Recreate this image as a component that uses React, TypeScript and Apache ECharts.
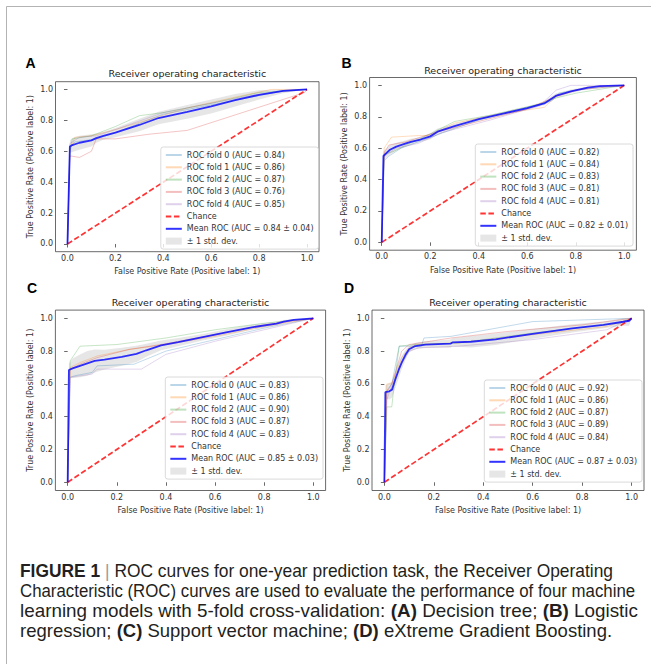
import { useEffect, useRef } from "react";
import * as echarts from "echarts";

// ---------- shared ----------
const TICK_VALUES = [0, 0.2, 0.4, 0.6, 0.8, 1.0];
const CHANCE_FPR = [0, 1];
const CHANCE_TPR = [0, 1];
const FOLD_COLORS = [
  "rgba(31,119,180,0.3)",
  "rgba(255,127,14,0.3)",
  "rgba(44,160,44,0.3)",
  "rgba(214,39,40,0.3)",
  "rgba(148,103,189,0.3)",
];
const PANEL_LETTERS = ["A", "B", "C", "D"];

// ---------- Panel A: Decision tree ----------
const A_FOLD_FPR = [
  [0, 0.01, 0.03, 0.12, 0.2, 0.3, 0.4, 0.5, 0.6, 0.7, 0.8, 0.9, 1],
  [0, 0.01, 0.03, 0.1, 0.2, 0.35, 0.5, 0.7, 0.85, 1],
  [0, 0.01, 0.02, 0.1, 0.2, 0.3, 0.4, 0.6, 0.8, 1],
  [0, 0.01, 0.05, 0.1, 0.12, 0.2, 0.34, 0.5, 0.99, 1],
  [0, 0.01, 0.05, 0.12, 0.2, 0.4, 0.6, 0.8, 1],
];
const A_FOLD_TPR = [
  [0, 0.62, 0.66, 0.68, 0.72, 0.78, 0.84, 0.87, 0.9, 0.93, 0.96, 0.99, 1],
  [0, 0.6, 0.69, 0.7, 0.74, 0.81, 0.88, 0.95, 1, 1],
  [0, 0.6, 0.68, 0.7, 0.76, 0.83, 0.85, 0.91, 0.98, 1],
  [0, 0.57, 0.56, 0.6, 0.68, 0.68, 0.71, 0.735, 0.98, 1],
  [0, 0.65, 0.69, 0.7, 0.74, 0.85, 0.91, 0.97, 1],
];
const A_FOLD_AUC = [0.84, 0.86, 0.87, 0.76, 0.85];
const A_MEAN_FPR = [0, 0.01, 0.02, 0.05, 0.1, 0.12, 0.15, 0.2, 0.3, 0.38, 0.5, 0.6, 0.7, 0.8, 0.9, 1.0];
const A_MEAN_TPR = [0, 0.63, 0.64, 0.655, 0.67, 0.685, 0.7, 0.72, 0.77, 0.815, 0.855, 0.89, 0.93, 0.965, 0.99, 1.0];
const A_STD_TPR = [0, 0.04, 0.045, 0.045, 0.04, 0.03, 0.025, 0.03, 0.04, 0.04, 0.045, 0.045, 0.04, 0.03, 0.015, 0];
const A_MEAN_AUC = "0.84 ± 0.04";

// ---------- Panel B: Logistic regression ----------
const B_FOLD_FPR = [
  [0, 0.01, 0.03, 0.08, 0.15, 0.22, 0.4, 0.6, 0.7, 0.73, 0.8, 1],
  [0, 0.01, 0.04, 0.15, 0.2, 0.3, 0.5, 0.67, 0.72, 0.85, 1],
  [0, 0.01, 0.05, 0.1, 0.2, 0.3, 0.45, 0.65, 0.72, 0.8, 1],
  [0, 0.01, 0.03, 0.1, 0.22, 0.4, 0.6, 0.72, 0.8, 1],
  [0, 0.01, 0.06, 0.15, 0.25, 0.45, 0.65, 0.72, 0.78, 1],
];
const B_FOLD_TPR = [
  [0, 0.52, 0.55, 0.6, 0.64, 0.68, 0.78, 0.86, 0.9, 0.95, 0.97, 1],
  [0, 0.6, 0.67, 0.68, 0.68, 0.76, 0.82, 0.86, 0.93, 0.99, 1],
  [0, 0.56, 0.58, 0.62, 0.69, 0.77, 0.81, 0.88, 0.92, 0.95, 1],
  [0, 0.57, 0.62, 0.64, 0.7, 0.77, 0.85, 0.93, 0.97, 1],
  [0, 0.55, 0.6, 0.63, 0.7, 0.78, 0.87, 0.97, 1, 1],
];
const B_FOLD_AUC = [0.82, 0.84, 0.83, 0.81, 0.81];
const B_MEAN_FPR = [0, 0.007, 0.02, 0.034, 0.06, 0.1, 0.12, 0.16, 0.2, 0.23, 0.3, 0.4, 0.5, 0.6, 0.67, 0.7, 0.72, 0.78, 0.85, 0.9, 1.0];
const B_MEAN_TPR = [0, 0.55, 0.57, 0.59, 0.61, 0.63, 0.64, 0.655, 0.675, 0.705, 0.74, 0.785, 0.82, 0.855, 0.885, 0.915, 0.935, 0.962, 0.985, 0.995, 1.0];
const B_STD_TPR = [0, 0.03, 0.03, 0.03, 0.025, 0.02, 0.02, 0.015, 0.02, 0.02, 0.015, 0.012, 0.012, 0.012, 0.012, 0.015, 0.015, 0.012, 0.008, 0.005, 0];
const B_MEAN_AUC = "0.82 ± 0.01";

// ---------- Panel C: Support vector machine ----------
const C_FOLD_FPR = [
  [0, 0.01, 0.03, 0.1, 0.12, 0.27, 0.4, 0.6, 0.8, 1],
  [0, 0.01, 0.05, 0.12, 0.25, 0.4, 0.6, 0.8, 1],
  [0, 0.01, 0.05, 0.2, 0.4, 0.6, 0.8, 1],
  [0, 0.01, 0.05, 0.12, 0.25, 0.4, 0.6, 0.8, 1],
  [0, 0.01, 0.1, 0.12, 0.3, 0.4, 0.6, 0.8, 1],
];
const C_FOLD_TPR = [
  [0, 0.64, 0.65, 0.67, 0.71, 0.72, 0.8, 0.87, 0.94, 1],
  [0, 0.7, 0.73, 0.77, 0.81, 0.84, 0.89, 0.95, 1],
  [0, 0.74, 0.83, 0.84, 0.88, 0.93, 0.97, 1],
  [0, 0.69, 0.72, 0.76, 0.81, 0.845, 0.9, 0.96, 1],
  [0, 0.64, 0.66, 0.69, 0.69, 0.78, 0.86, 0.93, 1],
];
const C_FOLD_AUC = [0.83, 0.86, 0.9, 0.87, 0.83];
const C_MEAN_FPR = [0, 0.005, 0.02, 0.05, 0.08, 0.11, 0.15, 0.22, 0.28, 0.32, 0.38, 0.45, 0.55, 0.65, 0.75, 0.85, 0.88, 0.92, 1.0];
const C_MEAN_TPR = [0, 0.685, 0.695, 0.71, 0.725, 0.74, 0.748, 0.765, 0.783, 0.805, 0.835, 0.855, 0.885, 0.915, 0.945, 0.968, 0.98, 0.99, 1.0];
const C_STD_TPR = [0, 0.04, 0.06, 0.07, 0.075, 0.07, 0.06, 0.055, 0.05, 0.04, 0.03, 0.025, 0.02, 0.02, 0.015, 0.012, 0.01, 0.005, 0];
const C_MEAN_AUC = "0.85 ± 0.03";

// ---------- Panel D: XGBoost ----------
const D_FOLD_FPR = [
  [0, 0.01, 0.03, 0.06, 0.15, 0.16, 0.27, 0.6, 1],
  [0, 0.01, 0.03, 0.07, 0.1, 0.13, 0.3, 0.6, 0.9, 1],
  [0, 0.01, 0.03, 0.04, 0.06, 0.12, 0.3, 0.6, 0.95, 1],
  [0, 0.01, 0.03, 0.07, 0.1, 0.27, 0.5, 0.8, 1],
  [0, 0.01, 0.02, 0.06, 0.1, 0.14, 0.3, 0.6, 0.9, 1],
];
const D_FOLD_TPR = [
  [0, 0.56, 0.6, 0.83, 0.83, 0.88, 0.89, 0.98, 1],
  [0, 0.6, 0.6, 0.76, 0.82, 0.84, 0.85, 0.9, 0.95, 1],
  [0, 0.46, 0.46, 0.6, 0.83, 0.84, 0.85, 0.91, 0.97, 1],
  [0, 0.55, 0.6, 0.8, 0.84, 0.88, 0.92, 0.96, 1],
  [0, 0.5, 0.55, 0.7, 0.8, 0.82, 0.83, 0.87, 0.93, 1],
];
const D_FOLD_AUC = [0.92, 0.86, 0.87, 0.89, 0.84];
const D_MEAN_FPR = [0, 0.004, 0.02, 0.031, 0.045, 0.058, 0.07, 0.085, 0.1, 0.125, 0.166, 0.267, 0.275, 0.35, 0.45, 0.6, 0.76, 0.886, 0.966, 0.99, 1.0];
const D_MEAN_TPR = [0, 0.55, 0.555, 0.565, 0.63, 0.685, 0.73, 0.776, 0.811, 0.831, 0.84, 0.845, 0.853, 0.857, 0.872, 0.905, 0.939, 0.96, 0.979, 0.985, 1.0];
const D_STD_TPR = [0, 0.04, 0.05, 0.05, 0.05, 0.05, 0.04, 0.03, 0.02, 0.02, 0.02, 0.025, 0.025, 0.035, 0.035, 0.03, 0.025, 0.02, 0.025, 0.03, 0];
const D_MEAN_AUC = "0.87 ± 0.03";

// ---------- caption ----------
const CAPTION_LINES = [
  "{b|FIGURE 1} {bar||} ROC curves for one-year prediction task, the Receiver Operating",
  "Characteristic (ROC) curves are used to evaluate the performance of four machine",
  "learning models with 5-fold cross-validation: {b|(A)} Decision tree; {b|(B)} Logistic",
  "regression; {b|(C)} Support vector machine; {b|(D)} eXtreme Gradient Boosting.",
];

const PANELS = [
  { foldFpr: A_FOLD_FPR, foldTpr: A_FOLD_TPR, foldAuc: A_FOLD_AUC, meanFpr: A_MEAN_FPR, meanTpr: A_MEAN_TPR, std: A_STD_TPR, meanAuc: A_MEAN_AUC },
  { foldFpr: B_FOLD_FPR, foldTpr: B_FOLD_TPR, foldAuc: B_FOLD_AUC, meanFpr: B_MEAN_FPR, meanTpr: B_MEAN_TPR, std: B_STD_TPR, meanAuc: B_MEAN_AUC },
  { foldFpr: C_FOLD_FPR, foldTpr: C_FOLD_TPR, foldAuc: C_FOLD_AUC, meanFpr: C_MEAN_FPR, meanTpr: C_MEAN_TPR, std: C_STD_TPR, meanAuc: C_MEAN_AUC },
  { foldFpr: D_FOLD_FPR, foldTpr: D_FOLD_TPR, foldAuc: D_FOLD_AUC, meanFpr: D_MEAN_FPR, meanTpr: D_MEAN_TPR, std: D_STD_TPR, meanAuc: D_MEAN_AUC },
];

// layout (pixels)
const LAYOUT = [
  { lx: 30.5, ly: 63.3, grid: { left: 55.5, top: 81.7, width: 263.5, height: 170 }, titleX: 187.3, titleY: 68.5, legendRight: 332.5, legendTop: 147 },
  { lx: 346.5, ly: 62.5, grid: { left: 369.6, top: 77.5, width: 266.8, height: 172.7 }, titleX: 503, titleY: 65, legendRight: 18, legendTop: 144 },
  { lx: 32, ly: 287.5, grid: { left: 55.4, top: 310.1, width: 270.2, height: 180.4 }, titleX: 190.5, titleY: 297, legendRight: 328, legendTop: 377 },
  { lx: 349, ly: 288.3, grid: { left: 372, top: 310.1, width: 272, height: 180.4 }, titleX: 508, titleY: 297, legendRight: 9, legendTop: 380 },
];
const CAPTION_X = 20;
const CAPTION_Y0 = 571;
const CAPTION_LINE_GAP = 20;
const CAPTION_LINE_END = [613, 636, 638, 612];
const CAPTION_SIZE = 17.5;
const CAPTION_FONT = "Liberation Sans";

const MPL_FONT = "DejaVu Sans";
const TEXT_COLOR = "#333";
const SPINE = "#444";
const BAND_COLOR = "rgba(128,128,128,0.2)";
const NO_SYMBOL = "rgba(0,0,0,0)";

function measureRich(line: string): number {
  const ctx = document.createElement("canvas").getContext("2d");
  if (!ctx) return 1;
  const re = /\{(\w+)\|([^}]*)\}/g;
  let last = 0;
  let w = 0;
  let m: RegExpExecArray | null;
  const seg = (text: string, bold: boolean) => {
    ctx.font = `${bold ? "bold " : ""}${CAPTION_SIZE}px "${CAPTION_FONT}"`;
    w += ctx.measureText(text).width;
  };
  while ((m = re.exec(line))) {
    if (m.index > last) seg(line.slice(last, m.index), false);
    seg(m[2], m[1] === "b");
    last = m.index + m[0].length;
  }
  if (last < line.length) seg(line.slice(last), false);
  return w;
}

function buildOption() {
  const grid: any[] = [];
  const xAxis: any[] = [];
  const yAxis: any[] = [];
  const series: any[] = [];
  const legend: any[] = [];
  const title: any[] = [];
  const graphic: any[] = [];

  PANELS.forEach((p, i) => {
    const L = LAYOUT[i];
    grid.push({
      ...L.grid,
      show: true,
      borderColor: SPINE,
      borderWidth: 0.8,
      backgroundColor: "transparent",
      containLabel: false,
      outerBoundsMode: "none",
    });
    const axisCommon = {
      type: "value",
      gridIndex: i,
      min: -0.05,
      max: 1.05,
      axisLine: { show: false },
      splitLine: { show: false },
      axisTick: { show: true, length: 3.5, lineStyle: { color: SPINE, width: 0.8 }, customValues: TICK_VALUES },
      axisLabel: {
        customValues: TICK_VALUES,
        formatter: (v: number) => v.toFixed(1),
        fontSize: 8,
        color: TEXT_COLOR,
        fontFamily: MPL_FONT,
        margin: 2.5,
      },
      nameLocation: "middle",
      nameTextStyle: { fontSize: 8, color: TEXT_COLOR, fontFamily: MPL_FONT },
    };
    xAxis.push({ ...axisCommon, name: "False Positive Rate (Positive label: 1)", nameGap: 16 });
    yAxis.push({ ...axisCommon, name: "True Positive Rate (Positive label: 1)", nameGap: 21 });

    const names: any[] = [];
    p.foldFpr.forEach((fpr, k) => {
      const name = `ROC fold ${k} (AUC = ${p.foldAuc[k].toFixed(2)})`;
      names.push(name);
      series.push({
        type: "line",
        name,
        xAxisIndex: i,
        yAxisIndex: i,
        data: fpr.map((x, j) => [x, p.foldTpr[k][j]]),
        symbol: "none",
        silent: true,
        lineStyle: { color: FOLD_COLORS[k], width: 0.9 },
        itemStyle: { color: NO_SYMBOL, borderWidth: 0 },
      });
    });
    series.push({
      type: "line",
      name: "Chance",
      xAxisIndex: i,
      yAxisIndex: i,
      data: CHANCE_FPR.map((x, j) => [x, CHANCE_TPR[j]]),
      symbol: "none",
      silent: true,
      lineStyle: { color: "rgba(255,0,0,0.8)", width: 1.7, type: [5.5, 2.6] },
      itemStyle: { color: NO_SYMBOL, borderWidth: 0 },
    });
    const meanName = `Mean ROC (AUC = ${p.meanAuc})`;
    series.push({
      type: "line",
      name: meanName,
      xAxisIndex: i,
      yAxisIndex: i,
      data: p.meanFpr.map((x, j) => [x, p.meanTpr[j]]),
      symbol: "none",
      silent: true,
      lineStyle: { color: "rgba(0,0,255,0.8)", width: 1.8 },
      itemStyle: { color: NO_SYMBOL, borderWidth: 0 },
    });
    const fprs = p.meanFpr;
    const lower = p.meanTpr.map((m, j) => Math.max(m - p.std[j], 0));
    const upper = p.meanTpr.map((m, j) => Math.min(m + p.std[j], 1));
    series.push({
      type: "custom",
      name: "± 1 std. dev.",
      xAxisIndex: i,
      yAxisIndex: i,
      data: fprs.map((x, j) => [x, lower[j], upper[j]]),
      encode: { x: 0, y: [1, 2] },
      silent: true,
      itemStyle: { color: BAND_COLOR },
      renderItem: (params: any, api: any) => {
        if (params.dataIndex !== 0) return null;
        const pts: number[][] = [];
        for (let j = 0; j < fprs.length; j++) pts.push(api.coord([fprs[j], lower[j]]));
        for (let j = fprs.length - 1; j >= 0; j--) pts.push(api.coord([fprs[j], upper[j]]));
        return { type: "polygon", shape: { points: pts }, style: { fill: BAND_COLOR } };
      },
    });

    legend.push({
      orient: "vertical",
      right: L.legendRight,
      top: L.legendTop,
      itemWidth: 16,
      itemHeight: 7,
      itemGap: 4.3,
      padding: [4, 5, 4, 4],
      selectedMode: false,
      backgroundColor: "rgba(255,255,255,0.8)",
      borderColor: "rgba(204,204,204,0.9)",
      borderWidth: 0.8,
      borderRadius: 2.5,
      textStyle: { fontSize: 8, color: TEXT_COLOR, fontFamily: MPL_FONT, padding: [0, 0, 0, 0] },
      data: [
        ...names,
        "Chance",
        meanName,
        { name: "± 1 std. dev.", icon: "rect", itemStyle: { color: BAND_COLOR } },
      ],
    });

    title.push({
      text: "Receiver operating characteristic",
      left: L.titleX,
      top: L.titleY,
      textAlign: "center",
      padding: 0,
      textStyle: { fontSize: 9.5, fontWeight: "normal", color: "#222", fontFamily: MPL_FONT },
    });

    graphic.push({
      type: "text",
      x: L.lx,
      y: L.ly,
      style: {
        text: PANEL_LETTERS[i],
        fontSize: 14,
        fontWeight: "bold",
        fontFamily: "Liberation Sans",
        fill: "#000",
        align: "center",
        verticalAlign: "middle",
      },
    });
  });

  // frame
  graphic.push({ type: "line", shape: { x1: 6.5, y1: 6.5, x2: 651, y2: 6.5 }, style: { stroke: "#b3b3b3", lineWidth: 1 } });
  graphic.push({ type: "line", shape: { x1: 6.5, y1: 6.5, x2: 6.5, y2: 664 }, style: { stroke: "#b3b3b3", lineWidth: 1 } });

  // caption (each line horizontally fitted to the reference line length)
  CAPTION_LINES.forEach((t, n) => {
    const natural = measureRich(t);
    const sx = natural > 0 ? (CAPTION_LINE_END[n] - CAPTION_X) / natural : 1;
    graphic.push({
      type: "group",
      x: CAPTION_X,
      y: CAPTION_Y0 + n * CAPTION_LINE_GAP,
      scaleX: sx,
      children: [
        {
          type: "text",
          x: 0,
          y: 0,
          style: {
            text: t,
            fontSize: CAPTION_SIZE,
            fontFamily: CAPTION_FONT,
            fill: "#231f20",
            verticalAlign: "middle",
            rich: {
              b: { fontSize: CAPTION_SIZE, fontFamily: CAPTION_FONT, fontWeight: "bold", fill: "#231f20" },
              bar: { fontSize: CAPTION_SIZE, fontFamily: CAPTION_FONT, fill: "#999" },
            },
          },
        },
      ],
    });
  });

  return {
    animation: false,
    backgroundColor: "#fff",
    grid,
    xAxis,
    yAxis,
    series,
    legend,
    title,
    graphic,
  };
}

export default function App() {
  const ref = useRef<HTMLDivElement>(null);
  useEffect(() => {
    if (!ref.current) return;
    const chart = echarts.init(ref.current, null, { renderer: "svg" });
    chart.setOption(buildOption() as any);
    return () => chart.dispose();
  }, []);
  return (
    <div
      ref={ref}
      style={{ position: "absolute", left: 0, top: 0, width: 651, height: 664 }}
    />
  );
}
